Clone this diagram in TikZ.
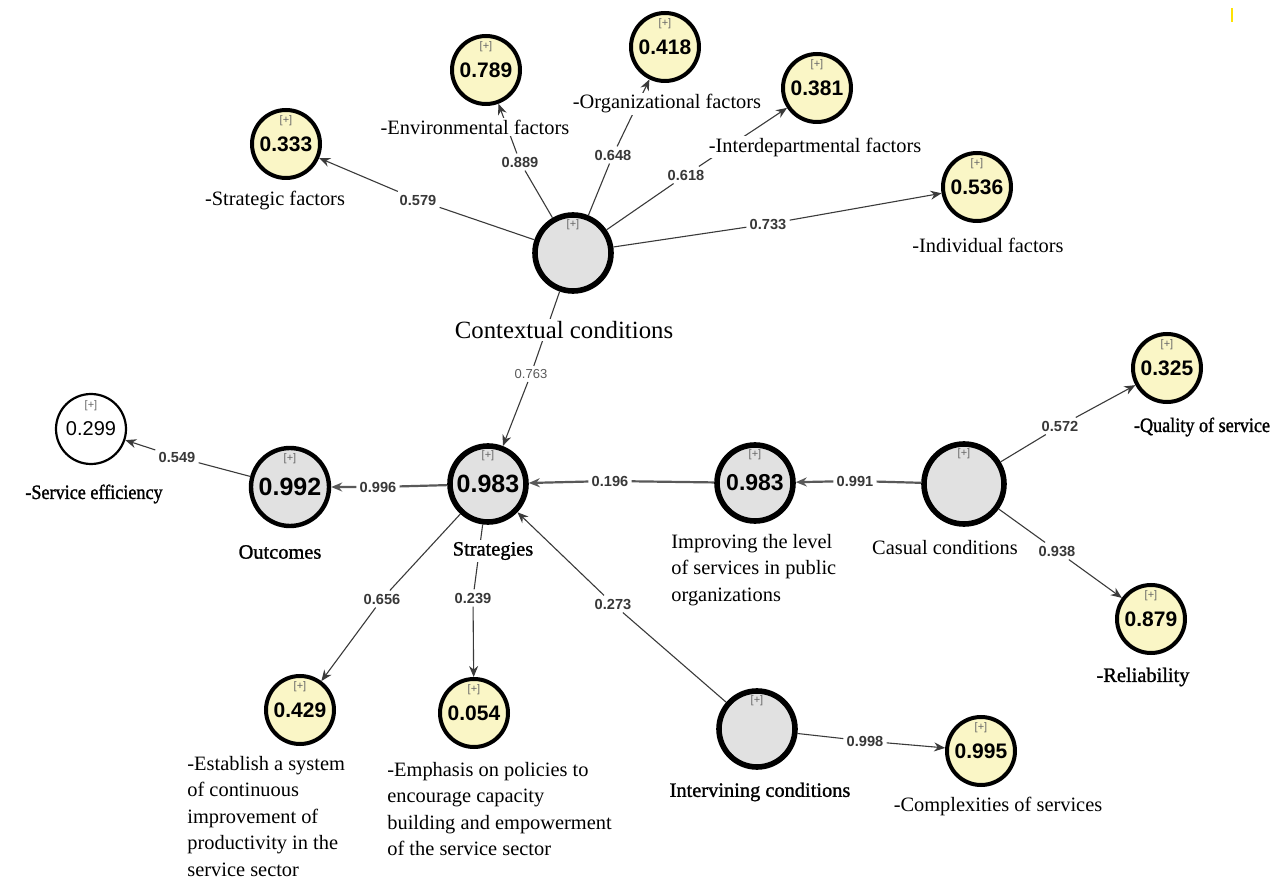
\documentclass[tikz,border=0pt]{standalone}
\usepackage{fontspec}
\setmainfont{Liberation Serif}
\setsansfont{Liberation Sans}
\newfontfamily\heavyserif[FakeBold=1.2]{Liberation Serif}
\newfontfamily\narrowserif[FakeBold=1.2, FakeStretch=0.89]{Liberation Serif}
\usetikzlibrary{arrows.meta}
\definecolor{latgray}{HTML}{E1E1E1}
\definecolor{indyel}{HTML}{FAF6C6}
\definecolor{edgecol}{HTML}{3A3A3A}
\tikzset{
	plustag/.style={anchor=north, inner sep=0pt, yshift=-3.5pt, font=\sffamily\fontsize{5.5}{5.5}\selectfont, text=black!60},
	latent/.style={circle, draw, line width=2.8pt, fill=latgray, minimum size=38pt, inner sep=0pt, font=\sffamily\bfseries\fontsize{12.5}{12.5}\selectfont, label={[plustag]north:{[+]}}},
	indic/.style={circle, draw, line width=2pt, fill=indyel, minimum size=34pt, inner sep=0pt, font=\sffamily\bfseries\fontsize{10.5}{10.5}\selectfont, label={[plustag]north:{[+]}}},
	wt/.style={inner sep=1.5pt, font=\sffamily\bfseries\fontsize{7.3}{7.3}\selectfont, text=black!78},
	lbl/.style={fill=white, inner sep=1pt, font=\fontsize{10.2}{13.2}\selectfont},
	heavylbl/.style={lbl, font=\heavyserif\fontsize{10.2}{13.2}\selectfont},
	narrowlbl/.style={lbl, font=\narrowserif\fontsize{10.2}{13.2}\selectfont},
	edge/.style={draw=edgecol, line width=0.55pt, -{Stealth[length=5.5pt,width=4.5pt]}},
	heavy/.style={edge, draw=black!65, line width=1.1pt}
}
\begin{document}
\begin{tikzpicture}[x=0.5pt, y=-0.5pt]
	\useasboundingbox (0,0) rectangle (1276,882);
	%latent variables
	\node[latent] (cc) at (573,253) {};
	\node[latent] (str) at (488,484) {0.983};
	\node[latent, line width=2.2pt, minimum size=39pt] (out) at (290,487) {0.992};
	\node[latent, font=\sffamily\bfseries\fontsize{11.5}{11.5}\selectfont] (imp) at (755,483) {0.983};
	\node[latent, minimum size=40pt] (cas) at (964,484) {};
	\node[latent] (itv) at (757,729) {};
	%indicators
	\node[indic] (f333) at (286,144) {0.333};
	\node[indic] (f789) at (486,70) {0.789};
	\node[indic] (f418) at (665,47) {0.418};
	\node[indic] (f381) at (817,88) {0.381};
	\node[indic] (f536) at (977,187) {0.536};
	\node[indic] (f325) at (1167,368) {0.325};
	\node[indic] (f879) at (1151,619) {0.879};
	\node[indic] (f995) at (981,751) {0.995};
	\node[indic] (f054) at (474,713) {0.054};
	\node[indic] (f429) at (300,710) {0.429};
	\node[indic, fill=white, line width=1.1pt, minimum size=35pt, font=\sffamily\fontsize{10}{10}\selectfont] (f299) at (91,429) {0.299};
	%weights
	\node[wt] (w579) at (418,200) {0.579};
	\node[wt] (w889) at (520,162) {0.889};
	\node[wt] (w648) at (613,155) {0.648};
	\node[wt] (w618) at (686,175) {0.618};
	\node[wt] (w733) at (768,224) {0.733};
	\node[wt, font=\sffamily\fontsize{6.5}{6.5}\selectfont, text=black!65] (w763) at (531,374) {0.763};
	\node[wt] (w549) at (177,457) {0.549};
	\node[wt] (w996) at (378,487) {0.996};
	\node[wt] (w196) at (610,481) {0.196};
	\node[wt] (w991) at (855,481) {0.991};
	\node[wt] (w572) at (1060,426) {0.572};
	\node[wt] (w938) at (1057,551) {0.938};
	\node[wt] (w656) at (382,599) {0.656};
	\node[wt] (w239) at (473,598) {0.239};
	\node[wt] (w273) at (613,604) {0.273};
	\node[wt] (w998) at (865,741) {0.998};
	%edges
	\draw[edge] (cc) -- (w579) -- (f333);
	\draw[edge] (cc) -- (w889) -- (f789);
	\draw[edge] (cc) -- (w648) -- (f418);
	\draw[edge] (cc) -- (w618) -- (f381);
	\draw[edge] (cc) -- (w733) -- (f536);
	\draw[edge] (cc) -- (w763) -- (str);
	\draw[edge] (out) -- (w549) -- (f299);
	\draw[heavy] (str) -- (w996) -- (out);
	\draw[heavy] (imp) -- (w196) -- (str);
	\draw[heavy] (cas) -- (w991) -- (imp);
	\draw[edge] (cas) -- (w572) -- (f325);
	\draw[edge] (cas) -- (w938) -- (f879);
	\draw[edge] (str) -- (w656) -- (f429);
	\draw[edge] (str) -- (w239) -- (f054);
	\draw[edge] (itv) -- (w273) -- (str);
	\draw[edge] (itv) -- (w998) -- (f995);
	%labels
	\node[lbl] (tstrat) at (275,201) {-Strategic factors};
	\node[lbl] (tenv) at (475,127) {-Environmental factors};
	\node[lbl] (torg) at (667,104) {-Organizational factors};
	\node[lbl] (tinter) at (815,147) {-Interdepartmental factors};
	\node[lbl] (tindiv) at (988,245) {-Individual factors};
	\node[lbl, font=\fontsize{12.4}{14}\selectfont] (tcc) at (564,330) {Contextual conditions};
	\node[narrowlbl] (tqual) at (1202,427) {-Quality of service};
	\node[heavylbl] (trel) at (1143,677) {-Reliability};
	\node[lbl] (tcas) at (945,548) {Casual conditions};
	\node[lbl, anchor=north west, align=left] (timp) at (669,532) {Improving the level\\of services in public\\organizations};
	\node[heavylbl] (tstr) at (493,551) {Strategies};
	\node[heavylbl] (tout) at (280,552) {Outcomes};
	\node[narrowlbl] (teff) at (94,494) {-Service efficiency};
	\node[lbl, anchor=north west, align=left] (test) at (185,754) {-Establish a system\\of continuous\\improvement of\\productivity in the\\service sector};
	\node[lbl, anchor=north west, align=left] (temp) at (385,760) {-Emphasis on policies to\\encourage capacity\\building and empowerment\\of the service sector};
	\node[heavylbl] (titv) at (760,792) {Intervining conditions};
	\node[lbl] (tcomp) at (998,806) {-Complexities of services};
	%corner mark
	\draw[yellow!85!orange, line width=1pt] (1232,8) -- (1232,22);
\end{tikzpicture}
\end{document}
